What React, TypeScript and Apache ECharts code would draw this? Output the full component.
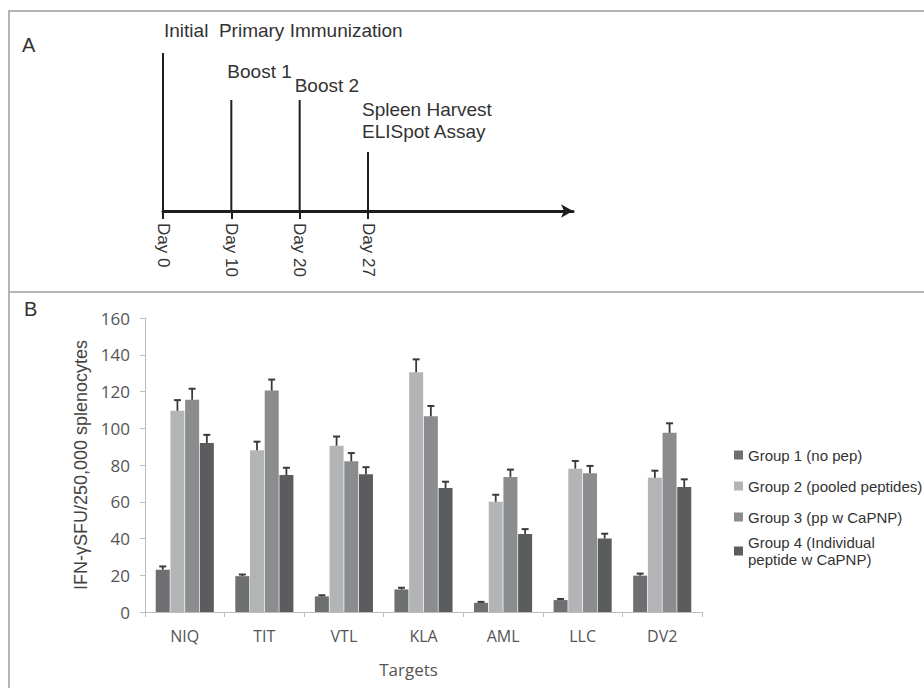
import React, { useEffect, useRef } from "react";
import * as echarts from "echarts";

// ---- Panel A: immunization timeline ----
const timelineDays = ["Day 0", "Day 10", "Day 20", "Day 27"];
const timelineSlots = [...timelineDays, "", "", ""];
const eventLabels = [
  "Initial  Primary Immunization",
  "Boost 1",
  "Boost 2",
  "Spleen Harvest\nELISpot Assay",
];
const eventHeights = [158, 111, 111, 59];

// ---- Panel B: ELISpot results ----
const targets = ["NIQ", "TIT", "VTL", "KLA", "AML", "LLC", "DV2"];
const groupNames = [
  "Group 1 (no pep)",
  "Group 2 (pooled peptides)",
  "Group 3 (pp w CaPNP)",
  "Group 4 (Individual\npeptide w CaPNP)",
];
const group1 = [23, 19.5, 8.5, 12.3, 5, 6.5, 19.8];
const group2 = [109.5, 88, 90.5, 130.5, 60, 78, 73];
const group3 = [115.5, 120.5, 82, 106.5, 73.5, 75.5, 97.5];
const group4 = [92, 74.5, 75, 67.5, 42.5, 40, 68];
const err1 = [1.8, 0.9, 0.6, 0.9, 0.5, 0.6, 1.1];
const err2 = [5.8, 4.7, 5, 7, 3.8, 4.2, 3.9];
const err3 = [6, 6, 4.5, 5.6, 4, 4, 5.2];
const err4 = [4.4, 4, 3.8, 3.4, 2.6, 2.6, 4.2];
const yTicks = { min: 0, max: 160, interval: 20 };

// ---- styling / layout ----
const groupColors = ["#6e6f71", "#b3b4b6", "#8b8c8e", "#5b5c5e"];
const eventLabelOffsets = [
  [1, -12],
  [-4, -18],
  [-5, -4],
  [-6, -10],
];
const BAR_W = 14;
const BAR_GAP = 0.05;

export default function App() {
  const ref = useRef<HTMLDivElement>(null);

  useEffect(() => {
    if (!ref.current) return;
    const chart = echarts.init(ref.current, null, { renderer: "svg" });
    const groups = [group1, group2, group3, group4];
    const errs = [err1, err2, err3, err4];
    const nG = groups.length;

    const barSeries = groups.map((vals, g) => ({
      type: "bar",
      name: groupNames[g],
      xAxisIndex: 1,
      yAxisIndex: 1,
      data: vals,
      barWidth: BAR_W,
      barGap: BAR_GAP * 100 + "%",
      itemStyle: { color: groupColors[g] },
      z: 2,
    }));

    const errSeries = groups.map((vals, g) => ({
      type: "custom",
      name: "err" + g,
      xAxisIndex: 1,
      yAxisIndex: 1,
      z: 3,
      encode: { x: 0, y: [1, 2] },
      data: vals.map((v, i) => [i, v, v + errs[g][i]]),
      renderItem: (params: any, api: any) => {
        const idx = api.value(0);
        const gap = BAR_W * BAR_GAP;
        const total = nG * BAR_W + (nG - 1) * gap;
        const off = -total / 2 + g * (BAR_W + gap) + BAR_W / 2;
        const base = api.coord([idx, api.value(1)]);
        const top = api.coord([idx, api.value(2)]);
        const x = base[0] + off;
        return {
          type: "group",
          children: [
            {
              type: "line",
              shape: { x1: x, y1: base[1], x2: x, y2: top[1] },
              style: { stroke: "#3a3a3a", lineWidth: 1.8 },
            },
            {
              type: "line",
              shape: { x1: x - 3.5, y1: top[1], x2: x + 3.5, y2: top[1] },
              style: { stroke: "#3a3a3a", lineWidth: 2 },
            },
          ],
        };
      },
    }));

    const option: any = {
      animation: false,
      backgroundColor: "#ffffff",
      grid: [
        { left: 163, right: 351, top: 50, bottom: 477 },
        { left: 145, right: 222, top: 318, bottom: 76 },
      ],
      xAxis: [
        {
          gridIndex: 0,
          type: "category",
          data: timelineSlots,
          boundaryGap: false,
          axisLine: {
            show: true,
            symbol: ["none", "arrow"],
            symbolSize: [10, 12],
            lineStyle: { color: "#1e1e1e", width: 3 },
          },
          axisTick: {
            show: true,
            length: 8,
            interval: (i: number) => i < timelineDays.length,
            lineStyle: { color: "#1e1e1e", width: 2 },
          },
          axisLabel: {
            interval: 0,
            rotate: -90,
            margin: 12,
            fontSize: 17,
            fontFamily: "Liberation Sans",
            color: "#333",
          },
          splitLine: { show: false },
        },
        {
          gridIndex: 1,
          type: "category",
          data: targets,
          axisLine: { show: true, lineStyle: { color: "#bdbdbd", width: 1 } },
          axisTick: { show: true, length: 5, lineStyle: { color: "#bdbdbd" } },
          axisLabel: {
            margin: 16,
            fontSize: 16,
            fontFamily: "Open Sans",
            color: "#555",
          },
          name: "Targets",
          nameLocation: "middle",
          nameGap: 49,
          nameTextStyle: {
            fontSize: 17,
            fontFamily: "Open Sans",
            color: "#555",
            padding: [0, 30, 0, 0],
          },
        },
      ],
      yAxis: [
        {
          gridIndex: 0,
          type: "value",
          min: 0,
          max: 161,
          show: false,
        },
        {
          gridIndex: 1,
          type: "value",
          min: yTicks.min,
          max: yTicks.max,
          interval: yTicks.interval,
          splitLine: { show: false },
          axisLine: { show: true, lineStyle: { color: "#bdbdbd", width: 1 } },
          axisTick: { show: true, length: 5, lineStyle: { color: "#bdbdbd" } },
          axisLabel: {
            margin: 15,
            fontSize: 17,
            fontFamily: "Open Sans",
            color: "#555",
          },
          name: "IFN-\u03b3SFU/250,000 splenocytes",
          nameLocation: "middle",
          nameGap: 52,
          nameTextStyle: {
            fontSize: 18,
            fontFamily: "Liberation Sans",
            color: "#444",
          },
        },
      ],
      legend: [
        {
          data: groupNames.slice(0, 3),
          orient: "vertical",
          left: 729,
          top: 441,
          itemWidth: 9,
          itemHeight: 9,
          itemGap: 13,
          icon: "rect",
          textStyle: {
            fontSize: 15,
            fontFamily: "Liberation Sans",
            color: "#333",
            lineHeight: 18,
          },
        },
        {
          data: groupNames.slice(3),
          orient: "vertical",
          left: 729,
          top: 529,
          itemWidth: 9,
          itemHeight: 9,
          icon: "rect",
          textStyle: {
            fontSize: 15,
            fontFamily: "Liberation Sans",
            color: "#333",
            lineHeight: 17,
          },
        },
      ],
      series: [
        {
          type: "bar",
          name: "timeline",
          xAxisIndex: 0,
          yAxisIndex: 0,
          barWidth: 2,
          itemStyle: { color: "#1e1e1e" },
          data: eventHeights.map((h, i) => ({
            value: h,
            label: {
              show: true,
              formatter: eventLabels[i],
              position: "top",
              distance: 0,
              align: "left",
              verticalAlign: "bottom",
              offset: eventLabelOffsets[i],
              fontSize: 19,
              lineHeight: 22,
              fontFamily: "Liberation Sans",
              color: "#333",
            },
          })),
        },
        ...barSeries,
        ...errSeries,
      ],
      graphic: [
        {
          type: "line",
          shape: { x1: 8, y1: 11, x2: 924, y2: 11 },
          style: { stroke: "#b4b4b4", lineWidth: 2 },
        },
        {
          type: "line",
          shape: { x1: 9, y1: 11, x2: 9, y2: 688 },
          style: { stroke: "#b4b4b4", lineWidth: 2 },
        },
        {
          type: "line",
          shape: { x1: 8, y1: 292, x2: 924, y2: 292 },
          style: { stroke: "#b4b4b4", lineWidth: 2 },
        },
        {
          type: "text",
          style: {
            text: "A",
            x: 22,
            y: 35,
            fontSize: 20,
            fontFamily: "Liberation Sans",
            fill: "#333",
            verticalAlign: "top",
          },
        },
        {
          type: "text",
          style: {
            text: "B",
            x: 24,
            y: 299,
            fontSize: 20,
            fontFamily: "Liberation Sans",
            fill: "#333",
            verticalAlign: "top",
          },
        },
      ],
    };

    chart.setOption(option);
    return () => chart.dispose();
  }, []);

  return (
    <div
      ref={ref}
      style={{ position: "absolute", left: 0, top: 0, width: 924, height: 688 }}
    />
  );
}
